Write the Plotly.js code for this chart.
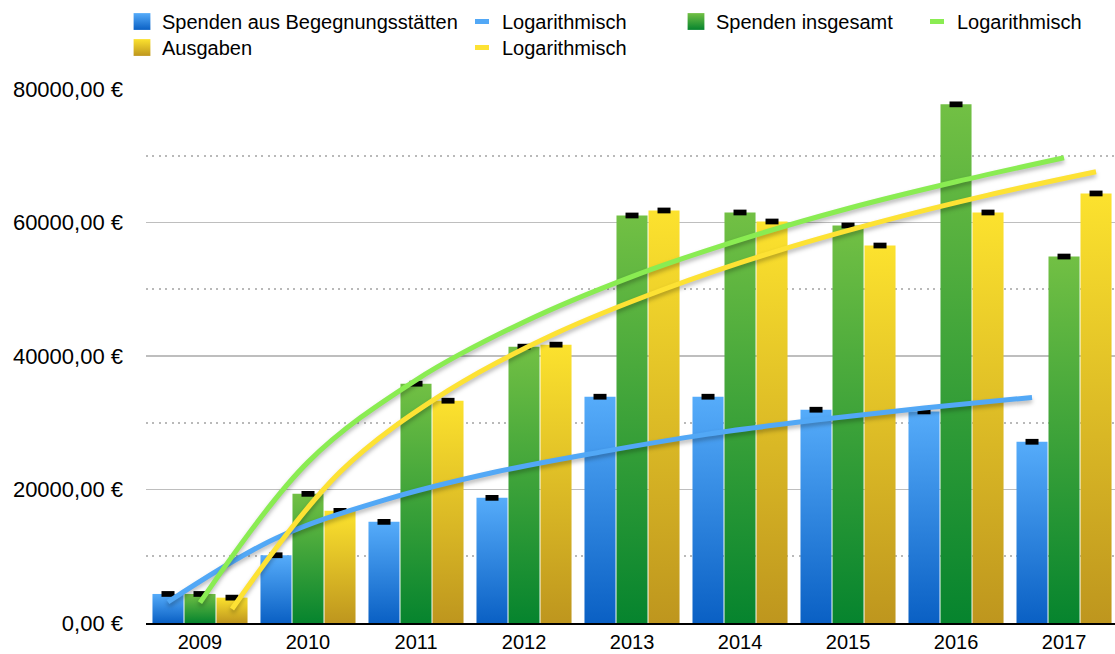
<!DOCTYPE html>
<html><head><meta charset="utf-8">
<script src="https://cdn.plot.ly/plotly-3.0.1.min.js"></script>
<style>html,body{margin:0;padding:0;background:#fff;} #chart{width:1115px;height:654px;}</style>
</head><body><div id="chart"></div>
<script>
const years = ['2009','2010','2011','2012','2013','2014','2015','2016','2017'];
const spendenBegegnung = [4350,10150,15150,18750,33900,33900,31950,31700,27150];
const spendenInsgesamt = [4350,19350,35850,41400,61050,61500,59550,77700,54900];
const ausgaben = [3800,16800,33300,41700,61800,60150,56550,61500,64350];
const trendBegegnung = [3150,12700,18400,22500,25600,28300,30400,32200,33800];
const trendInsgesamt = [3050,24100,36400,45100,51900,57400,62100,66100,69700];
const trendAusgaben = [2100,22600,34800,43400,50000,55500,60100,64100,67600];
const yTickVals = [0,20000,40000,60000,80000];
const yTickText = ['0,00 €','20000,00 €','40000,00 €','60000,00 €','80000,00 €'];
const yMinorVals = [10000,30000,50000,70000];
const seriesNames = ['Spenden aus Begegnungsstätten','Spenden insgesamt','Ausgaben'];
const trendName = 'Logarithmisch';

const FONT = 'Helvetica, "Liberation Sans", Arial, sans-serif';
const BARGAP = 0.111;
const slot = (1 - BARGAP) / 3;
const xIdx = years.map((_, i) => i);

const barColors = ['rgb(62,146,232)','rgb(60,165,55)','rgb(232,200,40)'];
const lineColors = ['rgb(82,168,246)','rgb(138,236,82)','rgb(253,226,52)'];

function bar(name, y, color, legend) {
  return {type:'bar', name:name, x:xIdx, y:y, legend:legend,
    marker:{color:color, line:{width:0}},
    error_y:{type:'constant', value:430, thickness:13, width:0, color:'#000'},
    hoverinfo:'skip'};
}
function trend(y, off, color, legend) {
  return {type:'scatter', mode:'lines', name:trendName, legend:legend,
    x:xIdx.map(i => i + off), y:y,
    line:{color:color, width:5, shape:'spline', smoothing:1.0},
    hoverinfo:'skip'};
}

const data = [
  bar(seriesNames[0], spendenBegegnung, barColors[0], 'legend'),
  trend(trendBegegnung, -slot, lineColors[0], 'legend2'),
  bar(seriesNames[1], spendenInsgesamt, barColors[1], 'legend3'),
  trend(trendInsgesamt, 0, lineColors[1], 'legend4'),
  bar(seriesNames[2], ausgaben, barColors[2], 'legend5'),
  trend(trendAusgaben, slot, lineColors[2], 'legend6')
];

function leg(xpx, ypx) {
  return {xref:'container', yref:'container', x:xpx/1115, y:1-ypx/654, xanchor:'left', yanchor:'top',
    orientation:'v', bgcolor:'rgba(0,0,0,0)', font:{family:FONT, size:20, color:'#000'}, tracegroupgap:0};
}

const layout = {
  width:1115, height:654,
  margin:{l:146, r:0, t:89, b:31, pad:0, autoexpand:false},
  paper_bgcolor:'#fff', plot_bgcolor:'#fff',
  barmode:'group', bargap:BARGAP, bargroupgap:0.03,
  showlegend:true,
  legend:leg(122, 2), legend2:leg(462, 2), legend3:leg(676, 2), legend4:leg(917, 2),
  legend5:leg(122, 28), legend6:leg(462, 28),
  xaxis:{range:[-0.5, 8.472], tickvals:xIdx, ticktext:years, showgrid:false, zeroline:false,
    showline:true, linecolor:'#000', linewidth:2, ticks:'', ticklabelstandoff:0,
    tickfont:{family:FONT, size:20, color:'#000'}, fixedrange:true},
  yaxis:{range:[0,80000], tickvals:yTickVals, ticktext:yTickText, showgrid:true,
    gridcolor:'rgb(190,190,190)', gridwidth:1.3, zeroline:false, showline:false, ticks:'',
    ticklabelstandoff:22, tickfont:{family:FONT, size:22, color:'#000'},
    minor:{tickvals:yMinorVals, showgrid:true, gridcolor:'rgb(185,185,185)', gridwidth:2, griddash:'2px,4.4px', ticks:''},
    fixedrange:true}
};

const gd = document.getElementById('chart');
Plotly.newPlot(gd, data, layout, {staticPlot:true, displayModeBar:false}).then(function() {
  const svgNS = 'http://www.w3.org/2000/svg';
  const defs = gd.querySelector('.main-svg defs');
  const grads = [
    ['gBlue','rgb(86,172,250)','rgb(10,96,196)'],
    ['gGreen','rgb(114,192,68)','rgb(6,132,46)'],
    ['gYellow','rgb(252,226,46)','rgb(190,150,30)']
  ];
  grads.forEach(g => {
    const lg = document.createElementNS(svgNS, 'linearGradient');
    lg.setAttribute('id', g[0]); lg.setAttribute('x1','0'); lg.setAttribute('y1','0');
    lg.setAttribute('x2','0'); lg.setAttribute('y2','1');
    [[0,g[1]],[1,g[2]]].forEach(s => {
      const st = document.createElementNS(svgNS, 'stop');
      st.setAttribute('offset', s[0]); st.setAttribute('stop-color', s[1]);
      lg.appendChild(st);
    });
    defs.appendChild(lg);
  });
  const nameToGrad = {};
  nameToGrad[seriesNames[0]] = 'gBlue';
  nameToGrad[seriesNames[1]] = 'gGreen';
  nameToGrad[seriesNames[2]] = 'gYellow';
  gd.querySelectorAll('.barlayer .trace').forEach(t => {
    const tr = t.__data__ && t.__data__[0] && t.__data__[0].trace;
    if (!tr) return;
    const gid = nameToGrad[tr.name];
    t.querySelectorAll('.point path').forEach(p => { p.style.fill = 'url(#' + gid + ')'; });
  });
  gd.querySelectorAll('.scatterlayer .trace .js-line').forEach(p => {
    p.style.filter = 'drop-shadow(0px 3px 2px rgba(0,0,0,0.28))';
  });
  gd.querySelectorAll('.infolayer .traces').forEach(t => {
    const tr = t.__data__ && t.__data__[0] && t.__data__[0].trace;
    if (!tr) return;
    if (tr.type === 'bar') {
      t.querySelectorAll('.legendpoints path').forEach(p => {
        p.style.fill = 'url(#' + nameToGrad[tr.name] + ')';
        const old = p.getAttribute('transform') || '';
        p.setAttribute('transform', old + ' scale(1.4)');
      });
    } else {
      t.querySelectorAll('.legendlines path').forEach(p => {
        p.setAttribute('d', 'M13,0h14');
      });
    }
  });
});
</script>
</body></html>
